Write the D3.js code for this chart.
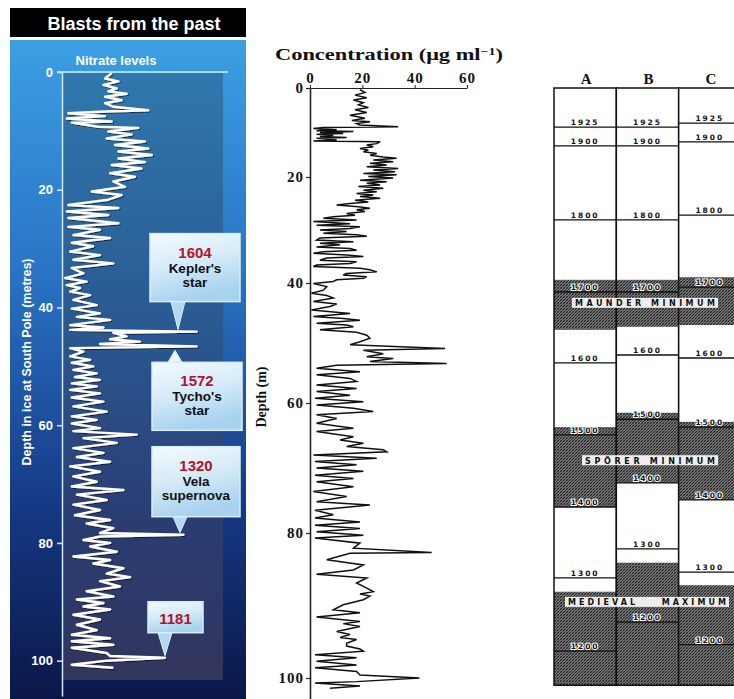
<!DOCTYPE html>
<html>
<head>
<meta charset="utf-8">
<script src="https://cdn.jsdelivr.net/npm/d3@7"></script>
<style>
  body { margin: 0; background: #fff; }
  svg { display: block; }
</style>
</head>
<body>
<div class="svg-container"></div>
<script>
// left panel: nitrate trace, [depth m, level]
const nitrateTrace = [
  [0.2,17.9],[1.1,15.4],[1.6,20.4],[2.2,14.8],[2.8,19.8],[3.3,16.6],[3.7,23.5],[4.2,15.4],[4.8,21.6],[5.3,15.4],
  [5.9,18.5],[6.5,31.6],[6.7,15.4],[7.0,1.6],[7.5,15.4],[7.9,1.0],[8.4,17.9],[8.6,2.9],[9.3,12.9],[9.5,27.9],
  [10.1,16.6],[10.6,25.4],[11.3,16.0],[11.8,30.4],[12.4,19.1],[13.0,31.6],[13.5,20.4],[14.1,32.9],[14.7,20.4],[15.3,30.4],
  [15.8,17.9],[16.4,29.1],[17.2,17.3],[17.8,26.6],[18.6,18.5],[19.5,22.9],[20.3,10.4],[20.9,21.6],[21.7,16.6],[22.6,1.6],
  [23.1,20.4],[23.7,1.0],[24.3,16.6],[24.8,1.6],[25.7,20.4],[26.3,1.6],[26.8,13.5],[27.7,3.5],[28.2,17.3],[29.0,2.9],
  [29.6,10.9],[30.5,2.3],[31.1,13.5],[31.9,3.5],[32.5,18.5],[33.3,2.9],[34.2,7.3],[35.0,0.4],[35.6,8.5],[36.2,1.0],
  [36.7,6.0],[37.3,2.3],[37.9,9.8],[38.7,3.5],[39.6,12.3],[40.2,2.9],[41.0,13.5],[41.6,4.8],[42.1,17.3],[43.0,2.3],
  [43.4,14.8],[43.8,2.3],[44.1,49.8],[44.3,18.5],[44.9,23.5],[45.4,17.3],[45.8,28.5],[46.2,13.5],[46.6,49.8],[46.9,2.3],
  [47.5,7.3],[48.3,2.3],[48.9,9.8],[49.4,2.9],[50.0,11.0],[50.6,3.5],[51.2,12.3],[51.8,4.1],[52.3,13.5],[52.9,2.9],
  [53.4,12.3],[54.0,2.3],[54.6,13.5],[55.3,2.9],[56.0,14.8],[56.8,3.5],[57.7,16.0],[58.5,2.9],[59.1,12.3],[59.7,2.9],
  [60.5,13.5],[61.0,3.5],[61.6,27.3],[62.2,7.3],[63.0,19.8],[63.9,3.5],[64.7,14.8],[65.4,4.8],[66.2,17.3],[67.0,2.3],
  [67.9,13.5],[68.7,3.5],[69.6,12.3],[70.4,2.9],[71.0,22.3],[71.8,4.8],[72.7,16.0],[73.5,3.5],[74.4,13.5],[75.3,4.1],
  [76.1,17.3],[76.7,8.5],[77.5,18.5],[78.3,13.5],[78.6,44.8],[78.9,13.5],[79.5,7.3],[80.0,17.3],[80.6,9.8],[81.5,19.8],
  [82.3,3.5],[82.9,17.3],[83.5,11.0],[84.3,22.3],[85.2,16.0],[85.8,24.8],[86.5,13.5],[87.4,21.0],[88.2,8.5],[89.1,18.5],
  [89.6,4.8],[90.2,14.8],[90.8,7.3],[91.3,17.3],[92.2,3.5],[93.0,13.5],[93.9,4.8],[94.8,12.3],[95.6,2.9],[96.2,17.3],
  [96.7,2.9],[97.3,18.5],[97.8,2.9],[98.7,16.0],[99.2,17.3],[99.5,37.9],[100.0,16.0],[100.7,2.9],[101.2,18.5]
];
const leftTicks = [0, 20, 40, 60, 80, 100];

// callouts on the left panel
const calloutYears = ['1604', '1572', '1320', '1181'];
const calloutNames = [["Kepler's", 'star'], ["Tycho's", 'star'], ['Vela', 'supernova'], []];
const calloutDepths = [44.1, 46.6, 78.6, 99.5];

// middle panel: concentration (ug/ml) against depth
const concTrace = [
  [0.4,19.1],[1.0,21.0],[1.6,17.2],[2.2,21.7],[2.7,16.6],[3.3,20.4],[3.8,18.5],[4.4,22.3],[4.9,17.2],[5.5,21.7],
  [6.1,15.3],[6.8,21.0],[7.3,16.0],[7.6,22.9],[8.0,17.8],[8.3,19.1],[8.7,33.7],[8.9,5.1],[9.1,1.3],[9.4,10.2],
  [9.6,2.5],[9.8,16.6],[10.0,3.8],[10.2,12.7],[10.4,2.5],[10.6,8.9],[10.9,3.8],[11.1,14.0],[11.3,2.5],[11.7,10.2],
  [11.9,1.3],[12.1,26.8],[12.5,25.5],[12.8,21.7],[13.2,24.2],[13.6,19.1],[14.0,22.3],[14.3,20.4],[14.7,25.5],[15.1,23.0],
  [15.5,28.0],[15.8,33.1],[16.2,24.2],[16.6,31.8],[16.9,22.9],[17.3,29.3],[17.7,21.7],[18.1,33.7],[18.4,24.2],[18.8,32.5],
  [19.2,20.4],[19.5,33.1],[19.9,22.3],[20.2,31.8],[20.6,19.1],[20.9,29.3],[21.2,21.7],[21.5,26.8],[21.8,18.5],[22.1,28.0],
  [22.5,20.4],[22.8,25.5],[23.1,17.8],[23.4,24.2],[23.7,19.1],[24.0,26.8],[24.4,17.2],[24.7,22.3],[25.0,15.3],[25.3,10.2],
  [25.6,18.5],[25.9,22.9],[26.2,17.8],[26.5,21.0],[26.9,14.0],[27.2,17.2],[27.5,8.9],[27.8,5.1],[28.1,17.8],[28.4,1.3],
  [28.8,15.3],[29.1,2.5],[29.4,19.1],[29.7,15.3],[30.0,3.8],[30.3,14.0],[30.6,5.1],[30.9,17.8],[31.2,21.7],[31.5,3.8],
  [31.9,2.5],[32.2,16.6],[32.5,3.8],[32.8,11.5],[33.2,2.5],[33.5,15.3],[33.8,17.8],[34.1,5.1],[34.4,1.3],[34.7,14.0],
  [35.0,20.4],[35.3,6.4],[35.7,3.8],[36.0,17.8],[36.3,15.3],[36.6,2.5],[36.9,1.3],[37.2,19.1],[37.5,22.9],[37.9,25.5],
  [38.2,14.0],[38.5,12.7],[38.8,21.7],[39.1,20.4],[39.4,10.2],[39.7,8.9],[40.1,1.3],[40.6,6.4],[41.2,5.1],[41.7,0.6],
  [42.1,6.4],[42.5,8.9],[43.1,1.3],[43.5,10.2],[43.9,7.6],[44.5,0.6],[45.1,15.3],[45.6,1.3],[45.9,12.7],[46.2,19.1],
  [46.7,2.5],[47.0,14.0],[47.3,16.6],[47.8,3.8],[48.2,17.8],[48.7,21.7],[49.2,22.9],[49.8,19.1],[50.3,15.3],[50.9,51.6],
  [51.2,20.4],[51.8,28.0],[52.3,21.7],[52.6,31.8],[53.1,22.9],[53.4,52.2],[53.7,10.2],[54.2,2.5],[54.8,19.1],[55.3,2.5],
  [55.9,15.3],[56.4,17.8],[57.0,2.5],[57.6,17.8],[58.1,2.5],[58.7,15.3],[59.2,1.9],[59.8,20.4],[60.3,2.5],[60.8,16.6],
  [61.3,24.2],[61.8,2.5],[62.4,10.2],[63.1,2.5],[63.9,16.6],[64.4,2.5],[65.2,16.6],[65.7,11.5],[66.2,20.4],[66.7,14.0],
  [67.2,28.0],[67.5,29.3],[68.0,1.3],[68.5,25.5],[69.0,1.9],[69.5,17.8],[70.0,2.5],[70.5,20.4],[71.1,1.9],[71.6,16.6],
  [72.1,2.5],[72.9,16.6],[73.6,1.3],[74.4,14.0],[75.2,2.5],[75.7,22.9],[76.5,1.9],[77.2,8.9],[77.7,1.9],[78.3,19.1],
  [78.8,1.9],[79.3,19.1],[79.8,2.5],[80.3,20.4],[80.7,1.9],[81.4,19.1],[82.1,16.6],[82.7,46.5],[82.8,15.3],[83.7,6.4],
  [84.4,20.4],[85.1,16.6],[85.7,2.5],[86.2,21.7],[86.9,17.8],[87.6,21.7],[88.1,24.2],[88.4,19.1],[88.7,22.9],[89.2,20.4],
  [89.9,12.7],[90.6,8.9],[91.0,19.1],[91.6,2.5],[92.2,19.1],[92.5,12.7],[92.9,19.1],[93.6,10.2],[94.0,15.3],[94.4,11.5],
  [94.7,17.8],[95.2,14.0],[95.6,14.0],[96.0,19.1],[96.3,20.4],[96.8,1.9],[97.2,17.8],[97.7,2.5],[98.2,17.8],[98.6,1.9],
  [99.1,17.8],[99.6,19.1],[100.0,41.8],[100.5,17.8],[100.7,1.9],[101.1,19.1],[101.4,7.6]
];
const concTicks = [0, 20, 40, 60];
const depthTicks = [0, 20, 40, 60, 80, 100];

// right panel: dated columns A, B, C (depths in m)
const columns = ['A', 'B', 'C'];
const columnBottom = 101;
const hatchA = [[39.4, 47.8], [63.7, 76.0], [88.1, 101]];
const hatchB = [[39.4, 47.3], [61.5, 72.3], [84.1, 101]];
const hatchC = [[38.9, 47.0], [62.9, 74.9], [87.2, 101]];
const yearsA = [['1925', 8.8], ['1900', 13.0], ['1800', 28.1], ['1700', 41.5], ['1600', 53.3], ['1500', 64.9], ['1400', 76.0], ['1300', 86.2], ['1200', 96.3]];
const yearsB = [['1925', 8.8], ['1900', 13.0], ['1800', 28.1], ['1700', 41.5], ['1600', 52.0], ['1500', 62.5], ['1400', 72.3], ['1300', 82.2], ['1200', 92.3]];
const yearsC = [['1925', 7.9], ['1900', 12.1], ['1800', 27.2], ['1700', 40.7], ['1600', 52.5], ['1500', 63.7], ['1400', 74.9], ['1300', 85.4], ['1200', 95.4]];
const bandNames = ['MAUNDER MINIMUM', 'SPÖRER MINIMUM', 'MEDIEVAL    MAXIMUM'];
const bandDepths = [43.3, 68.8, 89.5];

const width = 734;
const height = 699;
const sans = '"Liberation Sans", Arial, sans-serif';
const serif = '"Liberation Serif", "Times New Roman", serif';
const block = '"DejaVu Sans", sans-serif';

const svg = d3.select('.svg-container')
  .append('svg')
  .attr('width', width)
  .attr('height', height);

const defs = svg.append('defs');

const panelGrad = defs.append('linearGradient').attr('id', 'panelGrad')
  .attr('x1', 0).attr('y1', 0).attr('x2', 0).attr('y2', 1);
[[0, '#3c9fe2'], [0.35, '#2a74c4'], [0.7, '#163a86'], [1, '#0b1748']].forEach(s =>
  panelGrad.append('stop').attr('offset', s[0]).attr('stop-color', s[1]));

const innerGrad = defs.append('linearGradient').attr('id', 'innerGrad')
  .attr('x1', 0).attr('y1', 0).attr('x2', 0).attr('y2', 1);
[[0, '#2f78ae'], [0.4, '#2a5a92'], [0.75, '#2a3c72'], [1, '#32355c']].forEach(s =>
  innerGrad.append('stop').attr('offset', s[0]).attr('stop-color', s[1]));

const boxGrad = defs.append('linearGradient').attr('id', 'boxGrad')
  .attr('x1', 0).attr('y1', 0).attr('x2', 0.3).attr('y2', 1);
[[0, '#f4fafe'], [0.5, '#d6ebf9'], [1, '#a9d2ef']].forEach(s =>
  boxGrad.append('stop').attr('offset', s[0]).attr('stop-color', s[1]));

const shadow = defs.append('filter').attr('id', 'shadow');
shadow.append('feDropShadow').attr('dx', 1).attr('dy', 1).attr('stdDeviation', 0.7)
  .attr('flood-color', '#000').attr('flood-opacity', 0.6);

// dense grey cross hatch for the shaded intervals
const hatch = defs.append('pattern').attr('id', 'hatch')
  .attr('patternUnits', 'userSpaceOnUse').attr('width', 3).attr('height', 3);
hatch.append('rect').attr('width', 3).attr('height', 3).attr('fill', '#9a9a9a');
hatch.append('path').attr('d', 'M0,3L3,0M-1,1L1,-1M2,4L4,2')
  .attr('stroke', '#1c1c1c').attr('stroke-width', 1.1);
hatch.append('path').attr('d', 'M0,0L3,3')
  .attr('stroke', '#444').attr('stroke-width', 0.6);

// ---------- left panel ----------
const yLeft = d3.scaleLinear().domain([0, 106]).range([72, 696]);
const xLeft = d3.scaleLinear().domain([0, 60]).range([64, 224]);

svg.append('rect').attr('x', 10).attr('y', 8).attr('width', 236).attr('height', 29).attr('fill', '#000');
svg.append('text').attr('x', 134).attr('y', 30).attr('text-anchor', 'middle')
  .attr('fill', '#fff').style('font', `bold 18px ${sans}`).text('Blasts from the past');

svg.append('rect').attr('x', 10).attr('y', 40).attr('width', 236).attr('height', 659).attr('fill', 'url(#panelGrad)');
svg.append('rect').attr('x', 62).attr('y', 72).attr('width', 161).attr('height', 608).attr('fill', 'url(#innerGrad)');

svg.append('line').attr('x1', 57).attr('x2', 228).attr('y1', 72).attr('y2', 72)
  .attr('stroke', '#a6def8').attr('stroke-width', 2);

const leftAxis = svg.append('g')
  .attr('transform', 'translate(62,0)')
  .call(d3.axisLeft(yLeft).tickValues(leftTicks).tickSize(5).tickSizeOuter(0).tickPadding(4));
leftAxis.select('.domain').attr('stroke', '#d2eaf8').attr('stroke-width', 1.5);
leftAxis.selectAll('.tick line').attr('stroke', '#d2eaf8').attr('stroke-width', 1.5);
leftAxis.selectAll('.tick text').attr('fill', '#fff').style('font', `bold 13px ${sans}`);

svg.append('text').attr('x', 116).attr('y', 65).attr('text-anchor', 'middle')
  .attr('fill', '#fff').style('font', `bold 13px ${sans}`).text('Nitrate levels');

svg.append('text')
  .attr('transform', 'translate(31,362) rotate(-90)')
  .attr('text-anchor', 'middle')
  .attr('fill', '#fff').style('font', `bold 12.5px ${sans}`)
  .text('Depth in ice at South Pole (metres)');

const leftLine = d3.line().x(d => xLeft(d[1])).y(d => yLeft(d[0]));
svg.append('path').datum(nitrateTrace)
  .attr('d', leftLine)
  .attr('fill', 'none').attr('stroke', '#fff').attr('stroke-width', 2.4)
  .attr('stroke-linejoin', 'round')
  .attr('filter', 'url(#shadow)');

// callout boxes: box x, width, height, pointer offset, gap to target, pointing up or down
const calloutLayout = [
  { x: 150, w: 90, h: 68, px: 28, gap: 30, up: false },
  { x: 152, w: 90, h: 68, px: 23, gap: 14, up: true },
  { x: 152, w: 88, h: 70, px: 28, gap: 18, up: false },
  { x: 148, w: 55, h: 31, px: 17, gap: 25, up: false }
];
calloutYears.forEach((yr, i) => {
  const L = calloutLayout[i];
  const ty = yLeft(calloutDepths[i]);
  const tip = L.up ? ty + 4 : ty - 2;
  const by = L.up ? ty + L.gap + 2 : ty - L.gap - L.h;
  const g = svg.append('g');
  const bx = L.x + L.px;
  const baseY = L.up ? by : by + L.h;
  g.append('path')
    .attr('d', `M${bx - 7},${baseY}L${bx},${tip}L${bx + 7},${baseY}Z`)
    .attr('fill', L.up ? '#e8f4fc' : '#b4d8f1').attr('stroke', '#d8eefb').attr('stroke-width', 1);
  g.append('rect').attr('x', L.x).attr('y', by).attr('width', L.w).attr('height', L.h)
    .attr('fill', 'url(#boxGrad)').attr('stroke', '#d8eefb').attr('stroke-width', 1.5);
  const cx = L.x + L.w / 2;
  const lines = calloutNames[i];
  const yearY = lines.length ? by + 24 : by + 22;
  g.append('text').attr('x', cx).attr('y', yearY).attr('text-anchor', 'middle')
    .attr('fill', '#b3142a').style('font', `bold 15px ${sans}`).text(yr);
  lines.forEach((t, j) => {
    g.append('text').attr('x', cx).attr('y', yearY + 15 + j * 14).attr('text-anchor', 'middle')
      .attr('fill', '#111').style('font', `bold 13.5px ${sans}`).text(t);
  });
});

// ---------- middle panel ----------
const yMid = d3.scaleLinear().domain([0, 20, 40, 60, 80, 100, 104]).range([88, 177, 283, 403, 533, 678, 707]);
const xMid = d3.scaleLinear().domain([0, 60]).range([310, 467]);

svg.append('text').attr('x', 275).attr('y', 60)
  .attr('textLength', 228).attr('lengthAdjust', 'spacingAndGlyphs')
  .attr('fill', '#111').style('font', `bold 16px ${serif}`)
  .call(t => {
    t.append('tspan').text('Concentration (\u03bcg ml');
    t.append('tspan').attr('dy', -5).style('font-size', '10px').text('\u22121');
    t.append('tspan').attr('dy', 5).text(')');
  });

const topAxis = svg.append('g')
  .attr('transform', 'translate(0,88)')
  .call(d3.axisTop(xMid).tickValues(concTicks).tickSize(3).tickSizeOuter(0).tickPadding(2));
topAxis.select('.domain').attr('stroke', '#222').attr('stroke-width', 1.2);
topAxis.selectAll('.tick line').attr('stroke', '#222');
topAxis.selectAll('.tick text').attr('fill', '#111').attr('letter-spacing', 1).style('font', `bold 15px ${serif}`);

const midAxis = svg.append('g')
  .attr('transform', 'translate(310,0)')
  .call(d3.axisLeft(yMid).tickValues(depthTicks).tickSize(4).tickSizeOuter(0).tickPadding(2));
midAxis.select('.domain').attr('stroke', '#222').attr('stroke-width', 1.6);
midAxis.selectAll('.tick line').attr('stroke', '#222').attr('stroke-width', 1.2);
midAxis.selectAll('.tick text').attr('fill', '#111').attr('letter-spacing', 1).style('font', `bold 15px ${serif}`);

svg.append('text')
  .attr('transform', 'translate(266,397) rotate(-90)')
  .attr('text-anchor', 'middle')
  .attr('fill', '#111').style('font', `bold 14px ${serif}`)
  .text('Depth (m)');

const midLine = d3.line().x(d => xMid(d[1])).y(d => yMid(d[0]));
svg.append('path').datum(concTrace)
  .attr('d', midLine)
  .attr('fill', 'none').attr('stroke', '#111').attr('stroke-width', 1.5);

// ---------- right panel ----------
const colX = d3.scaleBand().domain(columns).range([554, 741]);
const hatches = { A: hatchA, B: hatchB, C: hatchC };
const years = { A: yearsA, B: yearsB, C: yearsC };

svg.append('g').selectAll('text')
  .data(columns).enter().append('text')
  .attr('x', d => colX(d) + colX.bandwidth() / 2 + 1)
  .attr('y', 84)
  .attr('text-anchor', 'middle')
  .attr('fill', '#111').style('font', `bold 15px ${serif}`)
  .text(d => d);

columns.forEach(c => {
  const g = svg.append('g');
  const x0 = colX(c);
  const w = colX.bandwidth();
  g.append('rect').attr('x', x0).attr('y', yMid(0)).attr('width', w)
    .attr('height', yMid(columnBottom) - yMid(0)).attr('fill', '#fff');
  g.selectAll('rect.h').data(hatches[c]).enter().append('rect')
    .attr('class', 'h')
    .attr('x', x0).attr('width', w)
    .attr('y', d => yMid(d[0]))
    .attr('height', d => yMid(d[1]) - yMid(d[0]))
    .attr('fill', 'url(#hatch)');
  g.selectAll('line.yr').data(years[c]).enter().append('line')
    .attr('class', 'yr')
    .attr('x1', x0).attr('x2', x0 + w)
    .attr('y1', d => yMid(d[1])).attr('y2', d => yMid(d[1]))
    .attr('stroke', '#111').attr('stroke-width', 1.3);
  g.selectAll('text').data(years[c]).enter().append('text')
    .attr('x', x0 + w / 2).attr('y', d => yMid(d[1]) - 2)
    .attr('text-anchor', 'middle')
    .attr('fill', '#111').attr('stroke', '#fff').attr('stroke-width', 2)
    .attr('paint-order', 'stroke').attr('letter-spacing', 2)
    .style('font', `bold 7.5px ${block}`)
    .text(d => d[0]);
  g.append('rect').attr('x', x0).attr('y', yMid(0)).attr('width', w)
    .attr('height', yMid(columnBottom) - yMid(0))
    .attr('fill', 'none').attr('stroke', '#111').attr('stroke-width', 1.5);
});

// band names sit on white strips across the columns
const bandCx = [645, 650, 647];
const bandLen = [140, 130, 158];
const bands = svg.append('g').selectAll('g')
  .data(bandNames).enter().append('g');
bands.append('rect')
  .attr('x', (d, i) => bandCx[i] - bandLen[i] / 2 - 3)
  .attr('y', (d, i) => yMid(bandDepths[i]) - 5)
  .attr('width', (d, i) => bandLen[i] + 6)
  .attr('height', 10)
  .attr('fill', '#fff').attr('opacity', 0.9);
bands.append('text')
  .attr('x', (d, i) => bandCx[i] - bandLen[i] / 2)
  .attr('y', (d, i) => yMid(bandDepths[i]) + 3.5)
  .attr('textLength', (d, i) => bandLen[i])
  .attr('lengthAdjust', 'spacing')
  .attr('fill', '#111')
  .style('font', `bold 8px ${block}`)
  .style('white-space', 'pre')
  .text(d => d);
</script>
</body>
</html>
